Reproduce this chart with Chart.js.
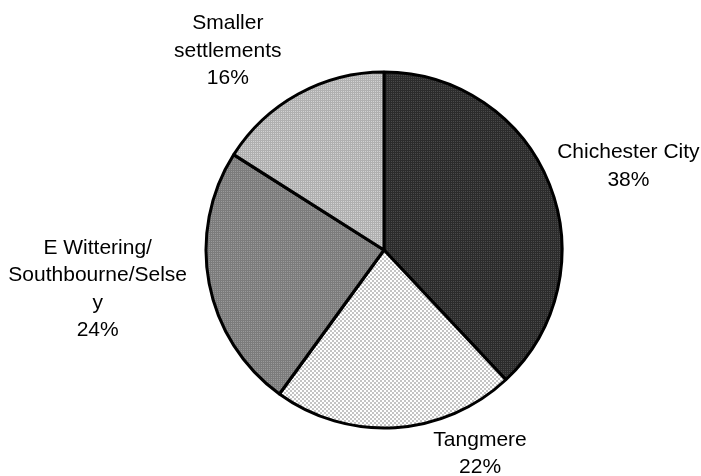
<!DOCTYPE html>
<html lang="en">
<head>
    <meta charset="UTF-8">
    <title>Housing distribution</title>
    <style>
        html, body { margin: 0; padding: 0; background: #fff; }
        #wrap { width: 701px; height: 476px; }
    </style>
</head>
<body>
    <div id="wrap">
        <canvas id="myChart" width="701" height="476"></canvas>
    </div>

    <script src="https://cdn.jsdelivr.net/npm/chart.js@4.4.0/dist/chart.umd.min.js"></script>
    <script>
        var categories = [
            ['Chichester City'],
            ['Tangmere'],
            ['E Wittering/', 'Southbourne/Selse', 'y'],
            ['Smaller', 'settlements']
        ];
        var shares = [38, 22, 24, 16];

        // label nudges from the point just outside each slice
        var labelNudge = [[51, -7], [83, -4], [-82, 0], [-56, -17]];

        // small tiled fills, like the old office chart hatching
        function makePattern(base, dot, kind) {
            var c = document.createElement('canvas');
            c.width = 4; c.height = 4;
            var g = c.getContext('2d');
            g.fillStyle = base;
            g.fillRect(0, 0, 4, 4);
            g.fillStyle = dot;
            if (kind === 'checker') {
                g.fillRect(0, 0, 2, 2);
                g.fillRect(2, 2, 2, 2);
            } else {
                g.fillRect(1, 1, 1, 1);
                g.fillRect(3, 3, 1, 1);
                g.fillRect(3, 1, 1, 1);
                g.fillRect(1, 3, 1, 1);
            }
            return g.createPattern(c, 'repeat');
        }

        var fills = [
            makePattern('#2c2c2c', '#4a4a4a', 'dots'),
            makePattern('#ffffff', '#c4c4c4', 'checker'),
            makePattern('#7c7c7c', '#999999', 'dots'),
            makePattern('#b0b0b0', '#d2d2d2', 'dots')
        ];

        var outsideLabels = {
            id: 'outsideLabels',
            afterDatasetsDraw: function (chart) {
                var ctx = chart.ctx;
                var arcs = chart.getDatasetMeta(0).data;
                var lineH = 27.5;
                ctx.save();
                ctx.font = '21px "Liberation Sans", Arial, sans-serif';
                ctx.fillStyle = '#000';
                ctx.textAlign = 'center';
                ctx.textBaseline = 'middle';
                arcs.forEach(function (arc, i) {
                    var mid = (arc.startAngle + arc.endAngle) / 2;
                    var r = arc.outerRadius + 30;
                    var x = arc.x + Math.cos(mid) * r + labelNudge[i][0];
                    var y = arc.y + Math.sin(mid) * r + labelNudge[i][1];
                    var lines = categories[i].concat([shares[i] + '%']);
                    var top = y - (lines.length - 1) * lineH / 2;
                    lines.forEach(function (t, k) {
                        ctx.fillText(t, x, top + k * lineH);
                    });
                });
                ctx.restore();
            }
        };

        var ctx = document.getElementById('myChart').getContext('2d');
        var myPieChart = new Chart(ctx, {
            type: 'pie',
            data: {
                labels: categories.map(function (c) { return c.join(' '); }),
                datasets: [{
                    data: shares,
                    backgroundColor: fills,
                    borderColor: '#000',
                    borderWidth: 3
                }]
            },
            options: {
                responsive: false,
                animation: false,
                radius: 178,
                layout: { padding: { top: 71, bottom: 47, left: 67, right: 0 } },
                plugins: {
                    legend: { display: false },
                    tooltip: { enabled: false }
                }
            },
            plugins: [outsideLabels]
        });
    </script>
</body>
</html>
